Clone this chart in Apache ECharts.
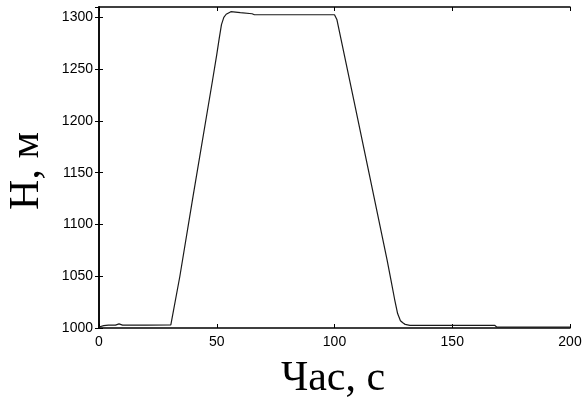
<!DOCTYPE html>
<html>
<head>
<meta charset="utf-8">
<script src="https://cdn.jsdelivr.net/npm/echarts@6/dist/echarts.min.js"></script>
<style>
  html, body { margin: 0; padding: 0; background: #fff; }
  #chart { width: 586px; height: 408px; }
</style>
</head>
<body>
<div id="chart"></div>
<script>
// час, с
var times = [0, 2, 4, 7, 8.5, 10, 20, 30.5, 34.3, 40, 48.2, 50, 51, 52, 53, 54, 56, 60, 65, 66,
             80, 100, 101, 108.2, 115, 122.3, 124, 125.5, 126.8, 128, 129, 130, 132, 150, 168, 169, 200];
// H, м
var heights = [1001, 1002.3, 1002.8, 1002.8, 1004, 1002.8, 1002.8, 1003, 1049.5, 1128, 1239, 1264, 1279, 1293, 1300, 1303, 1305.5, 1304.5, 1303.5, 1302.5,
               1302.5, 1302.5, 1298, 1220, 1146, 1066, 1046, 1028, 1014, 1007, 1005, 1003.5, 1002.6, 1002.6, 1002.6, 1000.8, 1000.8];
var xTicks = [0, 50, 100, 150, 200];
var yTicks = [1000, 1050, 1100, 1150, 1200, 1250, 1300];

var chart = echarts.init(document.getElementById('chart'));

var pts = times.map(function (t, i) { return [t, heights[i]]; });

var axisLine = { show: true, lineStyle: { color: '#000', width: 1.5 } };
var axisTick = { show: true, inside: true, length: 4, lineStyle: { color: '#000', width: 1 } };
var lbl = { color: '#000', fontFamily: 'Liberation Sans', fontSize: 14 };

var option = {
    animation: false,
    backgroundColor: '#fff',
    grid: { left: 99, right: 16, top: 7, bottom: 80 },
    xAxis: [
        {
            type: 'value', min: xTicks[0], max: xTicks[xTicks.length - 1], interval: 50,
            axisLine: axisLine, axisTick: axisTick, splitLine: { show: false },
            axisLabel: Object.assign({ margin: 7 }, lbl)
        },
        {
            type: 'value', position: 'top', min: 0, max: 200, interval: 50,
            axisLine: axisLine, axisTick: axisTick, splitLine: { show: false },
            axisLabel: { show: false }
        }
    ],
    yAxis: [
        {
            type: 'value', min: yTicks[0], max: 1310, interval: 50,
            axisLine: axisLine, axisTick: axisTick, splitLine: { show: false },
            axisLabel: Object.assign({
                margin: 6, showMaxLabel: false,
                formatter: function (v) { return yTicks.indexOf(v) >= 0 ? String(v) : ''; }
            }, lbl)
        },
        {
            type: 'value', position: 'right', min: 1000, max: 1310, interval: 50,
            axisLine: axisLine, axisTick: axisTick, splitLine: { show: false },
            axisLabel: { show: false }
        }
    ],
    graphic: [
        {
            type: 'text', x: 333, y: 379,
            style: { text: 'Час, с', fontFamily: 'Liberation Serif', fontSize: 42, fill: '#000', align: 'center', verticalAlign: 'middle' }
        },
        {
            type: 'text', x: 27, y: 171, rotation: Math.PI / 2,
            style: { text: 'H, м', fontFamily: 'Liberation Serif', fontSize: 42, fill: '#000', align: 'center', verticalAlign: 'middle' }
        }
    ],
    series: [
        {
            type: 'line',
            data: pts,
            showSymbol: false,
            lineStyle: { color: '#1a1a1a', width: 1.2 },
            silent: true
        }
    ]
};
chart.setOption(option);
</script>
</body>
</html>
